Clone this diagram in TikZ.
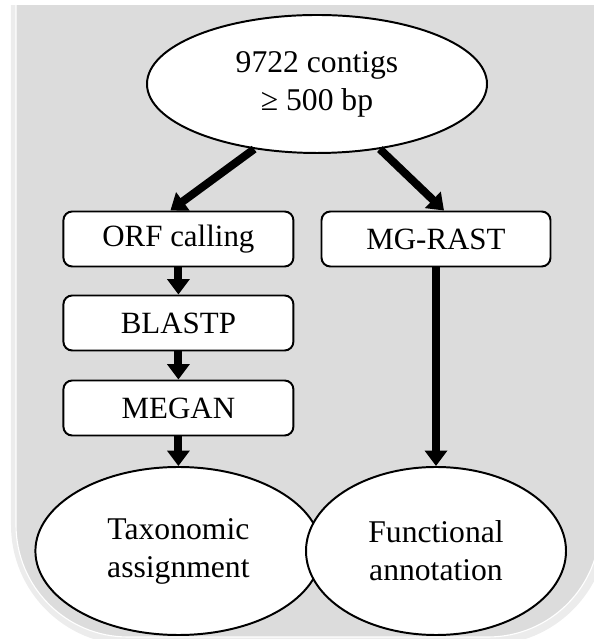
\documentclass[tikz,border=0pt]{standalone}
\usepackage{fontspec}
\setmainfont{Liberation Serif}
\usepackage{tikz}
\usetikzlibrary{shapes.geometric, arrows.meta}
\definecolor{panelgray}{RGB}{220,220,220}
\definecolor{edgegray}{RGB}{236,236,236}

\begin{document}
\begin{tikzpicture}[
  oval/.style={ellipse, draw, line width=1.4pt, fill=white, inner sep=0pt,
    align=center, font=\fontsize{22.5}{27}\selectfont},
  stepbox/.style={rectangle, rounded corners=0.22cm, draw, line width=1.4pt,
    fill=white, minimum width=5.75cm, minimum height=1.375cm, inner sep=0pt,
    font=\fontsize{22}{26}\selectfont},
  flow/.style={line width=5.7pt, -{Triangle[width=15.6pt,length=11pt]}}
]
\useasboundingbox (0,0) rectangle (14.825,15.975);

% Grey panel
\begin{scope}
\clip (-1,-1) rectangle (16,15.825);
\fill[edgegray, rounded corners=3cm] (0.275,-0.15) rectangle (15.2,19);
\filldraw[panelgray, draw=white, line width=0.8pt, rounded corners=2.8cm] (0.4,0.05) rectangle (15.0,19);
\end{scope}

% Contigs
\node[oval, minimum width=8.5cm, minimum height=3.45cm] (contigs) at (7.925,13.875) {9722 contigs\\≥ 500 bp};

% Taxonomy branch
\node[stepbox] (orf) at (4.46,10.0) {ORF calling};
\node[stepbox] (blastp) at (4.46,7.9) {BLASTP};
\node[stepbox] (megan) at (4.46,5.775) {MEGAN};
\node[oval, minimum width=7.15cm, minimum height=4.2cm] (taxo) at (4.46,2.2) {Taxonomic\\assignment};

% Function branch
\node[stepbox, minimum width=5.725cm] (mgrast) at (10.9,10.0) {MG-RAST};
\node[oval, minimum width=6.5cm, minimum height=4.2cm] (func) at (10.9,2.2) {Functional\\annotation};

% Arrows
\draw[flow] (contigs.226) -- ([xshift=-0.2cm]orf.north);
\draw[flow] (contigs.314) -- ([xshift=0.2cm]mgrast.north);
\draw[flow] (orf) -- (blastp);
\draw[flow] (blastp) -- (megan);
\draw[flow] (megan) -- (taxo);
\draw[flow] (mgrast) -- (func);
\end{tikzpicture}
\end{document}
